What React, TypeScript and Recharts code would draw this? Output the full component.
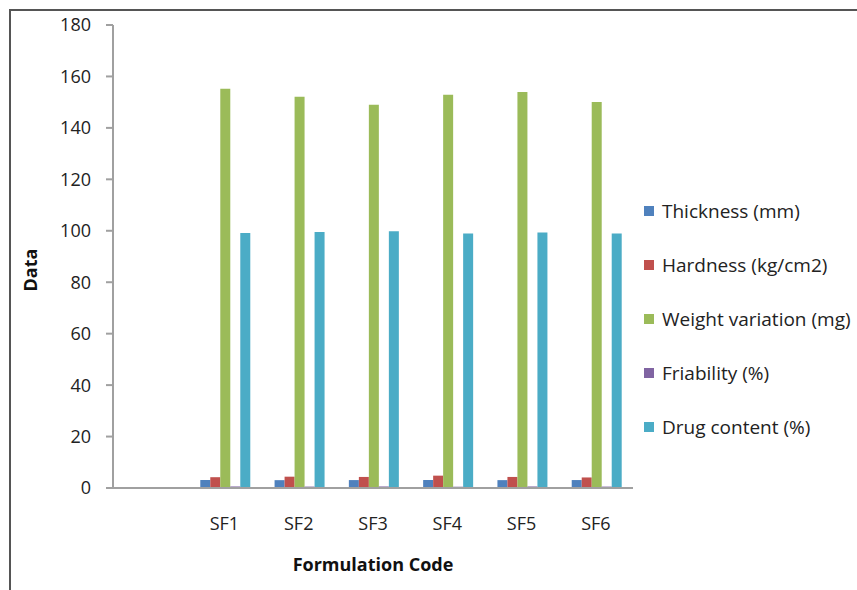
import { BarChart, Bar, XAxis, YAxis, Legend, Label } from "recharts";

// Leading blank category leaves an empty slot before SF1
const CODES = ["", "SF1", "SF2", "SF3", "SF4", "SF5", "SF6"];

const THICKNESS = [null, 3.1, 3.05, 3.08, 3.1, 3.06, 3.09];
const HARDNESS = [null, 4.2, 4.4, 4.3, 4.8, 4.3, 4.1];
const WEIGHT = [null, 155.2, 152.1, 149.0, 152.9, 154.0, 150.1];
const FRIABILITY = [null, 0.6, 0.55, 0.6, 0.5, 0.6, 0.55];
const DRUG = [null, 99.1, 99.5, 99.8, 98.9, 99.3, 98.9];

const Y_TICKS = [0, 20, 40, 60, 80, 100, 120, 140, 160, 180];

const SERIES = [
  { key: "thickness", name: "Thickness (mm)", color: "#4F81BD", values: THICKNESS },
  { key: "hardness", name: "Hardness (kg/cm2)", color: "#C0504D", values: HARDNESS },
  { key: "weight", name: "Weight variation (mg)", color: "#9BBB59", values: WEIGHT },
  { key: "friability", name: "Friability (%)", color: "#8064A2", values: FRIABILITY },
  { key: "drug", name: "Drug content (%)", color: "#4BACC6", values: DRUG },
];

const FONT = "'Open Sans', sans-serif";
const AXIS_COLOR = "#a0a0a0";

const data = CODES.map((code, i) => {
  const row: Record<string, string | number | null> = { code };
  for (const s of SERIES) row[s.key] = s.values[i];
  return row;
});

function LegendList() {
  return (
    <div style={{ fontFamily: FONT, fontSize: 19, color: "#222" }}>
      {SERIES.map((s) => (
        <div
          key={s.key}
          style={{ display: "flex", alignItems: "center", height: 54, whiteSpace: "nowrap" }}
        >
          <span
            style={{ width: 10, height: 10, background: s.color, marginRight: 8, flex: "none" }}
          />
          {s.name}
        </div>
      ))}
    </div>
  );
}

export default function App() {
  return (
    <div
      style={{
        position: "absolute",
        left: 0,
        top: 0,
        width: 857,
        height: 590,
        background: "#fff",
        overflow: "hidden",
      }}
    >
      {/* chart frame: only top and left edges show */}
      <div
        style={{
          position: "absolute",
          left: 9,
          top: 9,
          width: 900,
          height: 700,
          borderLeft: "2px solid #555",
          borderTop: "2px solid #555",
        }}
      />
      <div style={{ position: "absolute", left: 0, top: 0 }}>
        <BarChart
          width={857}
          height={590}
          data={data}
          margin={{ top: 25, right: 224, bottom: 42, left: 53 }}
          barCategoryGap="17.5%"
          barGap={0}
        >
          <XAxis
            dataKey="code"
            tickLine={false}
            axisLine={{ stroke: AXIS_COLOR, strokeWidth: 2 }}
            tick={{ fill: "#222", fontSize: 18, fontFamily: FONT }}
            tickMargin={23}
            height={60}
            interval={0}
          >
            <Label
              value="Formulation Code"
              position="bottom"
              offset={10}
              style={{ fontFamily: FONT, fontSize: 18, fontWeight: 700, fill: "#111" }}
            />
          </XAxis>
          <YAxis
            width={60}
            domain={[0, 180]}
            ticks={Y_TICKS}
            interval={0}
            tickSize={7}
            tickMargin={15}
            axisLine={{ stroke: AXIS_COLOR, strokeWidth: 2 }}
            tickLine={{ stroke: AXIS_COLOR, strokeWidth: 2 }}
            tick={{ fill: "#222", fontSize: 18, fontFamily: FONT }}
          >
            <Label
              content={() => (
                <text
                  x={30}
                  y={270}
                  transform="rotate(-90 30 270)"
                  textAnchor="middle"
                  dominantBaseline="central"
                  style={{ fontFamily: FONT, fontSize: 18, fontWeight: 700, fill: "#111" }}
                >
                  Data
                </text>
              )}
            />
          </YAxis>
          <Legend
            layout="vertical"
            align="center"
            verticalAlign="middle"
            content={() => <LegendList />}
            wrapperStyle={{ left: 644, top: 184, width: 213 }}
          />
          {SERIES.map((s) => (
            <Bar
              key={s.key}
              dataKey={s.key}
              name={s.name}
              fill={s.color}
              isAnimationActive={false}
            />
          ))}
        </BarChart>
      </div>
    </div>
  );
}
